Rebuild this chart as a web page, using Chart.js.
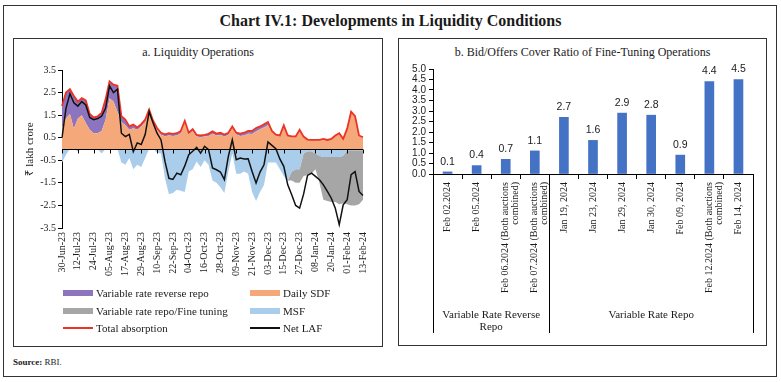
<!DOCTYPE html>
<html>
<head>
<meta charset="utf-8">
<script src="https://cdn.jsdelivr.net/npm/chart.js@4.4.1/dist/chart.umd.min.js"></script>
<style>
  body { margin: 0; background: #fff; font-family: "Liberation Serif", serif; color: #1a1a1a; }
  #wrap { position: relative; width: 781px; height: 382px; overflow: hidden; }
  .frame { position: absolute; border: 1px solid #333; box-sizing: border-box; }
  .title { position: absolute; left: 0; top: 12px; width: 781px; text-align: center; font-size: 16px; font-weight: bold; }
  .ptitle { position: absolute; top: 45px; text-align: center; font-size: 12px; }
  canvas { position: absolute; }
  .leg { position: absolute; height: 14px; font-size: 11px; line-height: 14px; white-space: nowrap; }
  .leg span.sw { position: absolute; left: 0; width: 30px; }
  .leg span.tx { position: absolute; left: 33px; top: 0; }
  .source { position: absolute; left: 13px; top: 357px; font-size: 9px; }
</style>
</head>
<body>
<div id="wrap">
  <div class="frame" style="left:3px; top:5px; width:774px; height:372px;"></div>
  <div class="title">Chart IV.1: Developments in Liquidity Conditions</div>

  <div class="frame" style="left:13px; top:38px; width:370px; height:309px;"></div>
  <div class="ptitle" style="left:13px; width:370px;">a. Liquidity Operations</div>
  <canvas id="liqChart" width="368" height="225" style="left:14px; top:62px;"></canvas>
  <div id="liqLegend"></div>

  <div class="frame" style="left:398px; top:38px; width:369px; height:308px;"></div>
  <div class="ptitle" style="left:398px; width:369px;">b. Bid/Offers Cover Ratio of Fine-Tuning Operations</div>
  <canvas id="ftChart" width="367" height="285" style="left:399px; top:60px;"></canvas>

  <div class="source"><b>Source:</b> RBI.</div>
</div>

<script>
// ---- Panel a: liquidity operations (₹ lakh crore), one point every 3 days ----
const tickLabels = ["30-Jun-23", "12-Jul-23", "24-Jul-23", "05-Aug-23", "17-Aug-23", "29-Aug-23",
  "10-Sep-23", "22-Sep-23", "04-Oct-23", "16-Oct-23", "28-Oct-23", "09-Nov-23", "21-Nov-23",
  "03-Dec-23", "15-Dec-23", "27-Dec-23", "08-Jan-24", "20-Jan-24", "01-Feb-24", "13-Feb-24"];
const pointsPerTick = 4;

const dailySdf = [1.0, 1.35, 1.55, 0.9, 1.35, 1.5, 1.15, 0.85, 0.7, 0.7,
  0.8, 1.3, 2.25, 2.1, 1.65, 1.2, 1.05, 0.85, 0.92, 0.85,
  1.0, 1.2, 1.7, 1.2, 0.85, 0.63, 0.56, 0.6, 0.58, 0.6,
  0.7, 1.2, 0.65, 0.8, 0.55, 0.52, 0.55, 0.58, 0.68, 0.6,
  0.62, 0.55, 0.62, 0.95, 0.64, 0.58, 0.6, 0.68, 0.66, 0.78,
  0.88, 0.95, 1.05, 0.75, 0.6, 0.58, 1.0, 0.6, 0.56, 0.56,
  0.85, 0.55, 0.42, 0.4, 0.4, 0.4, 0.45, 0.4, 0.45, 0.6,
  0.7, 0.45, 0.9, 1.65, 1.45, 0.6, 0.52];

const varRateRevRepo = [0.9, 1.15, 1.1, 1.45, 0.75, 0.75, 1.0, 0.7, 0.7, 0.75,
  0.8, 0.9, 0.75, 0.75, 1.15, 0.25, 0.25, 0.15, 0.16, 0.1,
  0.1, 0.1, 0.05, 0.05, 0.08, 0.09, 0.09, 0.1, 0.09, 0.1,
  0.1, 0.05, 0.07, 0.08, 0.07, 0.08, 0.08, 0.09, 0.1, 0.08,
  0.1, 0.09, 0.1, 0.05, 0.08, 0.1, 0.12, 0.12, 0.14, 0.15,
  0.12, 0.15, 0.15, 0.05, 0.04, 0.02, 0.05, 0, 0, 0,
  0, 0, 0, 0, 0, 0, 0, 0, 0, 0,
  0, 0, 0, 0, 0, 0, 0];

const msf = [-0.6, -0.25, 0, 0, -0.1, 0, 0, 0, 0, 0,
  -0.2, 0, 0, 0, 0, -0.6, -0.7, -0.4, -0.9, -0.7,
  -0.8, -0.4, 0, 0, -0.15, -0.2, -1.3, -2.0, -1.95, -1.8,
  -1.85, -1.9, -1.0, -0.9, -0.55, -0.8, -0.5, -0.7, -1.4, -1.5,
  -1.7, -1.95, -1.0, -0.2, -1.1, -1.1, -1.0, -1.1, -1.9, -2.3,
  -1.9, -1.6, -0.6, -0.6, -0.6, -0.9, -1.2, -1.4, -1.0, -0.9,
  -0.9, -0.2, -0.1, -0.1, -0.2, -0.3, -0.35, -0.35, -0.35, -0.35,
  -0.35, -0.3, -0.05, -0.05, -0.05, -0.05, -0.05];

const varRateRepo = [0, 0, 0, 0, 0, 0, 0, 0, 0, 0,
  0, 0, 0, 0, 0, 0, 0, 0, 0, 0,
  0, 0, 0, 0, 0, 0, 0, 0, 0, 0,
  0, 0, 0, 0, 0, 0, 0, 0, 0, 0,
  0, 0, 0, 0, 0, 0, 0, 0, 0, 0,
  0, 0, 0, 0, 0, 0, 0, 0, -0.4, -0.6,
  -0.6, -1.0, -1.05, -1.0, -0.7, -1.2, -1.9, -1.95, -2.0, -2.0,
  -2.1, -2.1, -2.4, -2.45, -2.45, -2.4, -2.2];

const totalAbsorption = [1.9, 2.5, 2.65, 2.35, 2.1, 2.25, 2.15, 1.55, 1.4, 1.45,
  1.6, 2.2, 3.0, 2.85, 2.8, 1.45, 1.3, 1.0, 1.08, 0.95,
  1.1, 1.3, 1.75, 1.25, 0.93, 0.72, 0.65, 0.7, 0.67, 0.7,
  0.8, 1.25, 0.72, 0.88, 0.62, 0.6, 0.63, 0.67, 0.78, 0.68,
  0.72, 0.64, 0.72, 1.0, 0.72, 0.68, 0.72, 0.8, 0.8, 0.93,
  1.0, 1.1, 1.2, 0.8, 0.64, 0.6, 1.05, 0.6, 0.56, 0.56,
  0.85, 0.55, 0.42, 0.4, 0.4, 0.4, 0.45, 0.4, 0.45, 0.6,
  0.7, 0.45, 0.9, 1.65, 1.45, 0.6, 0.52];

const netLaf = [0.5, 1.8, 2.45, 2.05, 1.9, 2.1, 1.95, 1.4, 1.3, 1.35,
  1.45, 1.8, 2.8, 2.5, 2.65, 0.7, 0.55, 0.65, -0.12, 0.27,
  0.2, 0.64, 1.65, 1.15, 0.7, 0.4, -0.55, -1.3, -1.35, -1.07,
  -1.14, -0.75, -0.25, -0.1, 0.07, -0.18, 0.12, -0.03, -0.84, -0.92,
  -1.02, -1.36, -0.33, 0.41, -0.47, -0.4, -0.44, -0.43, -1.0, -1.51,
  -1.02, -0.7, 0.31, 0.16, 0.01, -0.44, -0.77, -1.59, -2.03, -2.5,
  -2.62, -2.0, -1.17, -1.07, -1.21, -1.36, -1.59, -1.88, -2.18, -2.62,
  -3.35, -2.47, -2.25, -1.14, -1.0, -1.88, -2.06];

// ---- Panel b: bid/offer cover ratio ----
const ftCategories = ["Feb 02.2024", "Feb 05.2024", ["Feb 06.2024 (Both auctions", "combined)"],
  ["Feb 07.2024 (Both auctions", "combined)"], "Jan 19, 2024", "Jan 23, 2024", "Jan 29, 2024",
  "Jan 30, 2024", "Feb 09, 2024", ["Feb 12.2024 (Both auctions", "combined)"], "Feb 14, 2024"];
const coverRatio = [0.1, 0.4, 0.7, 1.1, 2.7, 1.6, 2.9, 2.8, 0.9, 4.4, 4.5];
const ftGroups = [
  { label: ["Variable Rate Reverse", "Repo"], from: 0, to: 3 },
  { label: ["Variable Rate Repo"], from: 4, to: 10 }
];

const SERIF = '"Liberation Serif", "Times New Roman", serif';
const SANS = '"Liberation Sans", Arial, sans-serif';
const TXT = "#1a1a1a";
const COLORS = {
  vrrr: "#8C74BE",
  sdf: "#F5A97B",
  vrr: "#A6A6A6",
  msf: "#A9CDEA",
  total: "#EC3326",
  net: "#111111",
  bar: "#4472C4"
};

Chart.defaults.font.family = SERIF;
Chart.defaults.color = TXT;

// category list: a label at every tick, blanks in between
const categories = [];
tickLabels.forEach((t, k) => {
  categories.push(t);
  if (k < tickLabels.length - 1) {
    for (let j = 1; j < pointsPerTick; j++) categories.push("");
  }
});

// zero line with small downward ticks, drawn over the areas
const zeroAxis = {
  id: "zeroAxis",
  afterDatasetsDraw(chart) {
    const { ctx, chartArea, scales: { x, y } } = chart;
    const y0 = Math.round(y.getPixelForValue(0)) + 0.5;
    ctx.save();
    ctx.strokeStyle = "#000";
    ctx.lineWidth = 1;
    ctx.beginPath();
    ctx.moveTo(chartArea.left, y0);
    ctx.lineTo(chartArea.right, y0);
    categories.forEach((c, i) => {
      if (!c) return;
      const px = Math.round(x.getPixelForValue(i)) + 0.5;
      ctx.moveTo(px, y0);
      ctx.lineTo(px, y0 + 4);
    });
    ctx.stroke();
    ctx.restore();
  }
};

const area = (label, data, stack, fill, color) => ({
  label, data, stack, fill,
  backgroundColor: color, borderColor: "transparent", borderWidth: 0,
  pointRadius: 0, tension: 0, order: 3
});

const liqChart = new Chart(document.getElementById("liqChart"), {
  type: "line",
  data: {
    labels: categories,
    datasets: [
      area("Daily SDF", dailySdf, "abs", "origin", COLORS.sdf),
      area("Variable rate reverse repo", varRateRevRepo, "abs", "-1", COLORS.vrrr),
      area("MSF", msf, "inj", "origin", COLORS.msf),
      area("Variable rate repo/Fine tuning", varRateRepo, "inj", "-1", COLORS.vrr),
      { label: "Total absorption", data: totalAbsorption, stack: "tot", fill: false,
        borderColor: COLORS.total, borderWidth: 1.8, pointRadius: 0, tension: 0, order: 1 },
      { label: "Net LAF", data: netLaf, stack: "net", fill: false,
        borderColor: COLORS.net, borderWidth: 1.5, pointRadius: 0, tension: 0, order: 0 }
    ]
  },
  options: {
    responsive: false,
    animation: false,
    devicePixelRatio: 1,
    layout: { padding: { top: 8, right: 19, left: 0, bottom: 0 } },
    plugins: { legend: { display: false }, tooltip: { enabled: false } },
    scales: {
      x: {
        grid: { display: false, drawTicks: false },
        border: { display: false },
        ticks: { autoSkip: false, maxRotation: 90, minRotation: 90, padding: 4, color: TXT,
          font: { family: SERIF, size: 10 } },
        afterFit: (s) => { s.height = 59; }
      },
      y: {
        stacked: true,
        min: -3.5, max: 3.5,
        ticks: { stepSize: 1, padding: 2, color: TXT, font: { family: SERIF, size: 10 },
          callback: (v) => v.toFixed(1) },
        grid: { drawOnChartArea: false, tickLength: 4, color: "#000" },
        border: { color: "#000" },
        title: { display: true, text: "₹ lakh crore", color: TXT, font: { family: SERIF, size: 11 },
          padding: { top: 10, bottom: 0 } },
        afterFit: (s) => { s.width = 48; }
      }
    }
  },
  plugins: [zeroAxis]
});

// legend for panel a, two columns
const legendSpots = [
  { name: "Variable rate reverse repo", left: 63, top: 293, type: "box" },
  { name: "Daily SDF", left: 250, top: 293, type: "box" },
  { name: "Variable rate repo/Fine tuning", left: 63, top: 311, type: "box" },
  { name: "MSF", left: 250, top: 311, type: "box" },
  { name: "Total absorption", left: 63, top: 328, type: "line" },
  { name: "Net LAF", left: 250, top: 328, type: "line" }
];
const legendBox = document.getElementById("liqLegend");
legendSpots.forEach((spot) => {
  const ds = liqChart.data.datasets.find((d) => d.label === spot.name);
  const item = document.createElement("div");
  item.className = "leg";
  item.style.left = spot.left + "px";
  item.style.top = (spot.top - 7) + "px";
  const sw = document.createElement("span");
  sw.className = "sw";
  if (spot.type === "box") {
    sw.style.top = "4px"; sw.style.height = "6px"; sw.style.background = ds.backgroundColor;
  } else {
    sw.style.top = "6px"; sw.style.height = "2px"; sw.style.background = ds.borderColor;
  }
  const tx = document.createElement("span");
  tx.className = "tx";
  tx.textContent = spot.name;
  item.appendChild(sw);
  item.appendChild(tx);
  legendBox.appendChild(item);
});

// value labels above bars
const barValues = {
  id: "barValues",
  afterDatasetsDraw(chart) {
    const { ctx } = chart;
    const meta = chart.getDatasetMeta(0);
    ctx.save();
    ctx.font = "10.5px " + SANS;
    ctx.fillStyle = TXT;
    ctx.textAlign = "center";
    ctx.textBaseline = "bottom";
    meta.data.forEach((bar, i) => {
      ctx.fillText(coverRatio[i].toFixed(1), bar.x, bar.y - 5);
    });
    ctx.restore();
  }
};

// group separators and group names under the category labels
const groupBrackets = {
  id: "groupBrackets",
  afterDraw(chart) {
    const { ctx, chartArea, scales: { x } } = chart;
    const half = (x.getPixelForValue(1) - x.getPixelForValue(0)) / 2;
    const top = chartArea.bottom;
    const bottom = chartArea.bottom + 159;
    const edges = [x.getPixelForValue(0) - half].concat(ftGroups.map((g) => x.getPixelForValue(g.to) + half));
    ctx.save();
    ctx.strokeStyle = "#000";
    ctx.lineWidth = 1;
    ctx.beginPath();
    edges.forEach((px) => {
      const p = Math.round(px) + 0.5;
      ctx.moveTo(p, top);
      ctx.lineTo(p, bottom);
    });
    ctx.stroke();
    ctx.font = "11px " + SERIF;
    ctx.fillStyle = TXT;
    ctx.textAlign = "center";
    ctx.textBaseline = "middle";
    ftGroups.forEach((g) => {
      const cx = (x.getPixelForValue(g.from) + x.getPixelForValue(g.to)) / 2;
      g.label.forEach((line, k) => ctx.fillText(line, cx, top + 141 + k * 12));
    });
    ctx.restore();
  }
};

const ftChart = new Chart(document.getElementById("ftChart"), {
  type: "bar",
  data: {
    labels: ftCategories,
    datasets: [{ label: "Bid/Offers cover ratio", data: coverRatio, backgroundColor: COLORS.bar, barThickness: 9 }]
  },
  options: {
    responsive: false,
    animation: false,
    devicePixelRatio: 1,
    layout: { padding: { top: 9, right: 13, left: 0, bottom: 0 } },
    plugins: { legend: { display: false }, tooltip: { enabled: false } },
    scales: {
      x: {
        grid: { offset: true, drawOnChartArea: false, tickLength: 5, color: "#000" },
        border: { color: "#000" },
        ticks: { autoSkip: false, maxRotation: 90, minRotation: 90, padding: 3, color: TXT,
          font: { family: SERIF, size: 10, lineHeight: 1.0 } },
        afterFit: (s) => { s.height = 171; }
      },
      y: {
        min: 0, max: 5,
        ticks: { stepSize: 0.5, autoSkip: false, padding: 3, color: TXT, font: { family: SANS, size: 10 },
          callback: (v) => v.toFixed(1) },
        grid: { drawOnChartArea: false, tickLength: 4, color: "#000" },
        border: { color: "#000" },
        afterFit: (s) => { s.width = 34; }
      }
    }
  },
  plugins: [barValues, groupBrackets]
});
</script>
</body>
</html>
